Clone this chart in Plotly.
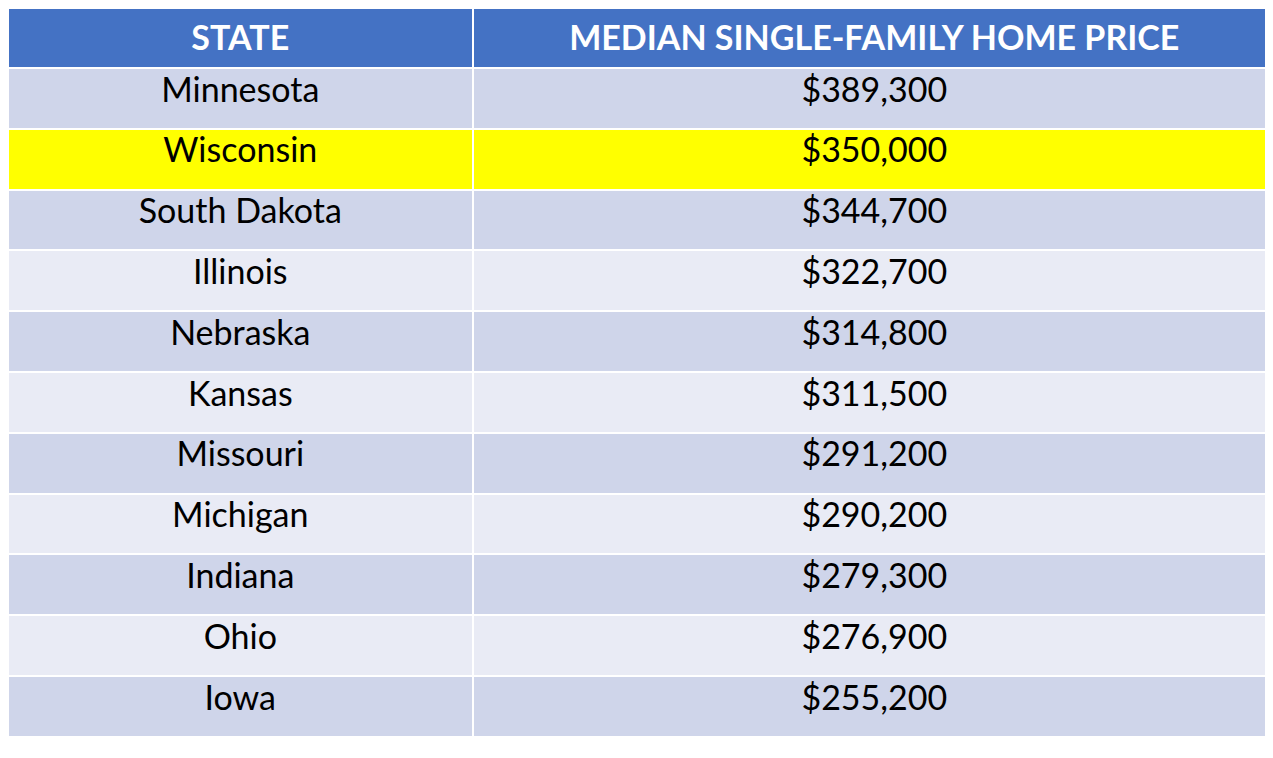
import plotly.graph_objects as go

states = ["Minnesota", "Wisconsin", "South Dakota", "Illinois", "Nebraska", "Kansas",
          "Missouri", "Michigan", "Indiana", "Ohio", "Iowa"]
prices = ["$389,300", "$350,000", "$344,700", "$322,700", "$314,800", "$311,500",
          "$291,200", "$290,200", "$279,300", "$276,900", "$255,200"]
headers = ["<b>STATE</b>", "<b>MEDIAN SINGLE-FAMILY HOME PRICE</b>"]

dark, light = "#CFD5EA", "#E9EBF5"
fills = []
for i, s in enumerate(states):
    if s == "Wisconsin":
        fills.append("#FFFF00")
    else:
        fills.append(dark if i % 2 == 0 else light)

fig = go.Figure(go.Table(
    columnwidth=[462, 799],
    header=dict(values=headers, fill_color="#4472C4", align="center",
                font=dict(family="Lato, Open Sans, sans-serif", size=34, color="white"),
                line=dict(color="white", width=2), height=60),
    cells=dict(values=[states, prices], fill_color=[fills, fills], align="center",
               font=dict(family="Lato, Open Sans, sans-serif", size=34, color="black"),
               line=dict(color="white", width=2), height=60.8),
))
fig.update_layout(width=1273, height=758, margin=dict(l=0, r=5, t=0, b=10),
                  paper_bgcolor="white")
fig.write_html("out.html")
